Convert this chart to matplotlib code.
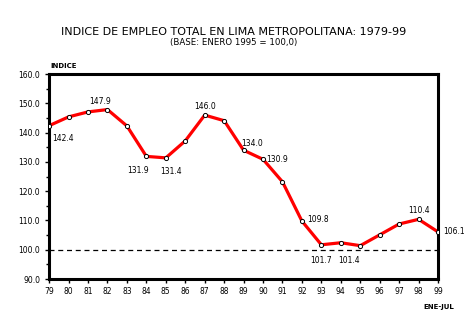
import matplotlib.pyplot as plt
import numpy as np

years = [79, 80, 81, 82, 83, 84, 85, 86, 87, 88, 89, 90, 91, 92, 93, 94, 95, 96, 97, 98, 99]
indice = [142.4, 145.4, 147.1, 147.9, 142.3, 131.9, 131.4, 137.2, 146.0, 144.1,
          134.0, 130.9, 123.2, 109.8, 101.7, 102.4, 101.4, 105.1, 108.8, 110.4, 106.1]
# value labels: (year, text, dx points, dy points, ha)
etiquetas = [(79, "142.4", 2, -9, "left"), (82, "147.9", -5, 6, "center"),
             (84, "131.9", -6, -10, "center"), (85, "131.4", 4, -10, "center"),
             (87, "146.0", 0, 6, "center"), (89, "134.0", 6, 5, "center"),
             (90, "130.9", 2, 0, "left"), (92, "109.8", 4, 1, "left"),
             (93, "101.7", 0, -11, "center"), (95, "101.4", -8, -11, "center"),
             (98, "110.4", 0, 6, "center"), (99, "106.1", 4, 0, "left")]

fig = plt.figure(figsize=(4.68, 3.31), dpi=100)
ax = fig.add_axes([0.105, 0.157, 0.831, 0.619])

ax.axhline(100, color="black", lw=0.9, ls=(0, (4, 3)), zorder=1)
ax.plot(years, indice, color="#ff0000", lw=2.3, zorder=2)
ax.plot(years, indice, ls="none", marker="o", ms=3, mfc="white", mec="black", mew=0.7, zorder=3)

for yr, txt, dx, dy, ha in etiquetas:
    v = indice[years.index(yr)]
    ax.annotate(txt, (yr, v), xytext=(dx, dy), textcoords="offset points",
                ha=ha, va="center", fontsize=5.5)

ax.set_xlim(79, 99)
ax.set_ylim(90, 160)
ax.set_xticks(years)
ax.set_xticklabels([str(y) for y in years])
ax.set_yticks(np.arange(90, 161, 10))
ax.set_yticklabels(["%.1f" % v for v in np.arange(90, 161, 10)])
ax.set_yticks(np.arange(95, 160, 10), minor=True)
ax.tick_params(axis="both", labelsize=5.5, width=1, length=3, direction="out")
ax.tick_params(axis="y", which="minor", length=2, width=1)
ax.tick_params(axis="x", pad=3)
for s in ax.spines.values():
    s.set_linewidth(2.2)

fig.text(0.5, 0.903, "INDICE DE EMPLEO TOTAL EN LIMA METROPOLITANA: 1979-99",
         ha="center", va="center", fontsize=8)
fig.text(0.5, 0.873, "(BASE: ENERO 1995 = 100,0)", ha="center", va="center", fontsize=6.2)
fig.text(0.108, 0.80, "INDICE", ha="left", va="center", fontsize=5, fontweight="bold")
fig.text(0.97, 0.072, "ENE-JUL", ha="right", va="center", fontsize=5, fontweight="bold")

fig.savefig("out.png", dpi=100, facecolor="white")
